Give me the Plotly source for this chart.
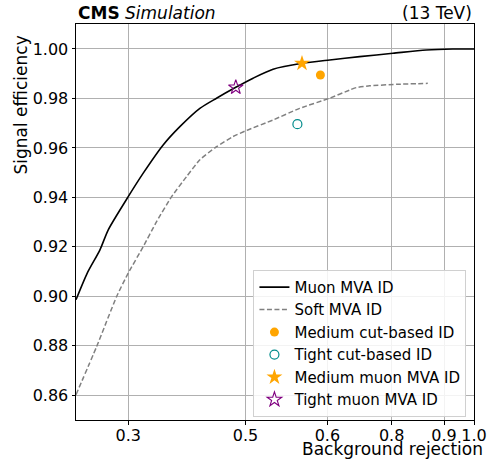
import numpy as np
import plotly.graph_objects as go

# ---- data ----
tick_labels = ["0.3", "0.5", "0.6", "0.8", "0.9", "1.0"]
tick_values = [0.3, 0.5, 0.6, 0.8, 0.9, 1.0]

# non-uniform x scale of the original figure: value -> fraction of axis length
scale_values = [0.21, 0.3, 0.5, 0.6, 0.8, 0.9, 1.0]
scale_frac = [0.0, 0.1312, 0.4258, 0.6316, 0.7930, 0.9247, 1.0]

muon_rej = [0.21, 0.2294, 0.2513, 0.2656, 0.30, 0.3256, 0.3596, 0.3881, 0.4222,
            0.4506, 0.4835, 0.5093, 0.5337, 0.5690, 0.6072, 0.7005, 0.8025,
            0.8661, 0.9293, 1.0]
muon_eff = [0.8986, 0.9094, 0.9188, 0.9269, 0.9403, 0.9498, 0.9612, 0.9686, 0.9760,
            0.9801, 0.9845, 0.9882, 0.9918, 0.9942, 0.99556, 0.99689, 0.99826,
            0.99960, 1.0, 1.0]

soft_rej = [0.21, 0.2456, 0.2800, 0.30, 0.3256, 0.3484, 0.3740, 0.3995, 0.4222,
            0.4506, 0.4789, 0.5016, 0.5337, 0.5662, 0.6072, 0.6694, 0.6902,
            0.7316, 0.8089, 0.8690]
soft_eff = [0.8602, 0.8797, 0.8999, 0.9094, 0.9201, 0.9302, 0.9403, 0.9484, 0.9552,
            0.9605, 0.9646, 0.9671, 0.9713, 0.9760, 0.9801, 0.9834, 0.9844,
            0.9851, 0.9857, 0.9861]

medium_cut = (0.5915, 0.9895)
tight_cut = (0.5634, 0.9696)
medium_mva = (0.5690, 0.9942)
tight_mva = (0.4835, 0.9845)


def to_axis(v):
    return np.interp(np.asarray(v, dtype=float), scale_values, scale_frac)


FONT = "DejaVu Sans"

fig = go.Figure()
fig.add_trace(go.Scatter(x=to_axis(muon_rej), y=muon_eff, mode="lines",
                         name="Muon MVA ID",
                         line=dict(color="black", width=1.6, shape="spline", smoothing=0.7)))
fig.add_trace(go.Scatter(x=to_axis(soft_rej), y=soft_eff, mode="lines",
                         name="Soft MVA ID",
                         line=dict(color="gray", width=1.5, dash="5px,2.5px",
                                   shape="spline", smoothing=0.5)))
fig.add_trace(go.Scatter(x=to_axis([medium_cut[0]]), y=[medium_cut[1]], mode="markers",
                         name="Medium cut-based ID",
                         marker=dict(symbol="circle", size=9, color="orange")))
fig.add_trace(go.Scatter(x=to_axis([tight_cut[0]]), y=[tight_cut[1]], mode="markers",
                         name="Tight cut-based ID",
                         marker=dict(symbol="circle-open", size=9, color="#008b8b",
                                     line=dict(width=1.2))))
fig.add_trace(go.Scatter(x=to_axis([medium_mva[0]]), y=[medium_mva[1]], mode="markers",
                         name="Medium muon MVA ID",
                         marker=dict(symbol="star", size=12, color="orange")))
fig.add_trace(go.Scatter(x=to_axis([tight_mva[0]]), y=[tight_mva[1]], mode="markers",
                         name="Tight muon MVA ID",
                         marker=dict(symbol="star-open", size=11, color="purple",
                                     line=dict(width=1.1))))

fig.update_layout(
    width=491, height=461,
    margin=dict(l=76, r=16.5, t=24, b=41, autoexpand=False),
    paper_bgcolor="white", plot_bgcolor="white",
    font=dict(family=FONT, size=16, color="black"),
    showlegend=True,
    legend=dict(x=0.981, y=0.008, xanchor="right", yanchor="bottom",
                bgcolor="rgba(255,255,255,0.85)", bordercolor="#d0d0d0",
                borderwidth=1, font=dict(family=FONT, size=15),
                tracegroupgap=0, itemwidth=30),
)
fig.update_xaxes(range=[0, 1], tickmode="array", tickvals=to_axis(tick_values),
                 ticktext=tick_labels, showgrid=True, gridcolor="#b0b0b0", gridwidth=1,
                 showline=True, linecolor="black", linewidth=1, mirror=True,
                 ticks="outside", ticklen=3.5, tickcolor="black", zeroline=False,
                 tickfont=dict(size=16), automargin=False, ticklabelstandoff=-3)
fig.update_yaxes(range=[0.85, 1.0101], tickmode="array",
                 tickvals=[0.86, 0.88, 0.90, 0.92, 0.94, 0.96, 0.98, 1.00],
                 tickformat=".2f", showgrid=True, gridcolor="#b0b0b0", gridwidth=1,
                 showline=True, linecolor="black", linewidth=1, mirror=True,
                 ticks="outside", ticklen=3.5, tickcolor="black", zeroline=False,
                 tickfont=dict(size=16), automargin=False)

fig.add_annotation(xref="paper", yref="paper", x=0.0, y=1.0, xanchor="left",
                   yanchor="bottom", yshift=-1.5, showarrow=False,
                   text="<b>CMS</b> <i>Simulation</i>", font=dict(size=17))
fig.add_annotation(xref="paper", yref="paper", x=1.0, y=1.0, xanchor="right",
                   yanchor="bottom", yshift=-1.5, showarrow=False, text="(13 TeV)",
                   font=dict(size=17))
fig.add_annotation(xref="paper", yref="paper", x=1.0, y=0, xanchor="right",
                   yanchor="top", xshift=11, yshift=-16.5, showarrow=False,
                   text="Background rejection", font=dict(size=17))
fig.add_annotation(xref="paper", yref="paper", x=0, y=1.0, xanchor="right",
                   yanchor="top", xshift=-44, yshift=-10, showarrow=False, textangle=-90,
                   text="Signal efficiency", font=dict(size=17))

# remove the default 8px page margin so the figure fills the window exactly
fig.write_html("out.html", config={"displayModeBar": False},
               post_script="document.body.style.margin='0px';")
